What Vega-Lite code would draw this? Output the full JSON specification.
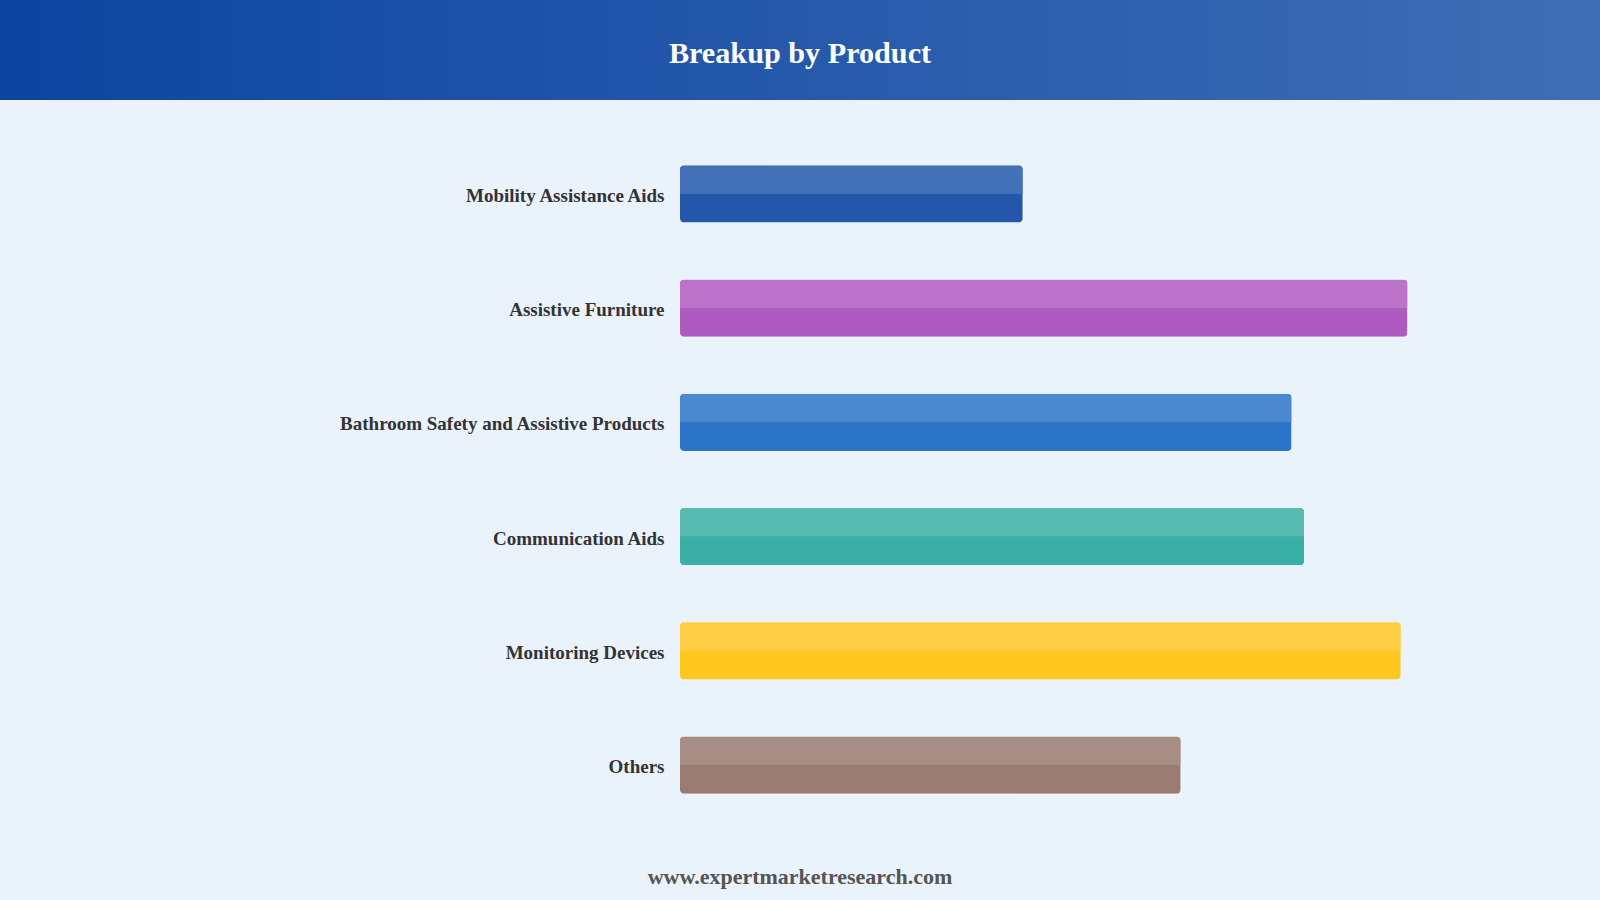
{
  "$schema": "https://vega.github.io/schema/vega-lite/v6.json",
  "description": "Breakup by Product",
  "background": "#EAF2FC",
  "padding": 0,
  "spacing": 0,
  "config": {"view": {"stroke": null}, "font": "Liberation Serif"},
  "vconcat": [
    {
      "width": 1600,
      "height": 100,
      "view": {
        "fill": {
          "gradient": "linear",
          "x1": 0, "y1": 0, "x2": 1, "y2": 0,
          "stops": [
            {"offset": 0, "color": "#0C45A0"},
            {"offset": 1, "color": "#3F6DB5"}
          ]
        }
      },
      "data": {"values": [{"heading": "Breakup by Product"}]},
      "mark": {
        "type": "text",
        "font": "Liberation Serif",
        "fontWeight": "bold",
        "fontSize": 30.2,
        "color": "white",
        "baseline": "middle",
        "dy": 4
      },
      "encoding": {"text": {"field": "heading"}}
    },
    {
      "width": 1600,
      "height": 759,
      "data": {
        "values": [
          {"product": "Mobility Assistance Aids", "share": 40.8},
          {"product": "Assistive Furniture", "share": 86.6},
          {"product": "Bathroom Safety and Assistive Products", "share": 72.8},
          {"product": "Communication Aids", "share": 74.3},
          {"product": "Monitoring Devices", "share": 85.8},
          {"product": "Others", "share": 59.6}
        ]
      },
      "encoding": {
        "y": {
          "field": "product",
          "type": "nominal",
          "sort": null,
          "scale": {"paddingInner": 0.5, "paddingOuter": 0.572},
          "axis": {
            "title": null,
            "domain": false,
            "ticks": false,
            "grid": false,
            "labelFont": "Liberation Serif",
            "labelFontWeight": "bold",
            "labelFontSize": 19,
            "labelColor": "#333333",
            "labelPadding": 0,
            "labelLimit": 0,
            "labelOffset": 2,
            "offset": -664
          }
        },
        "x": {
          "field": "share",
          "type": "quantitative",
          "scale": {"domain": [0, 100], "range": [680, 1520]},
          "axis": null
        }
      },
      "layer": [
        {
          "mark": {"type": "bar", "cornerRadius": 4},
          "encoding": {
            "color": {
              "field": "product",
              "type": "nominal",
              "scale": {
                "domain": ["Mobility Assistance Aids", "Assistive Furniture", "Bathroom Safety and Assistive Products", "Communication Aids", "Monitoring Devices", "Others"],
                "range": ["#2457AB", "#AF5AC1", "#2B74C7", "#3AAFA5", "#FDC720", "#9A7B71"]
              },
              "legend": null
            }
          }
        },
        {
          "mark": {
            "type": "bar",
            "height": 28.5,
            "yOffset": -14.25,
            "cornerRadiusTopLeft": 4,
            "cornerRadiusTopRight": 4
          },
          "encoding": {
            "color": {
              "field": "product",
              "type": "nominal",
              "scale": {
                "domain": ["Mobility Assistance Aids", "Assistive Furniture", "Bathroom Safety and Assistive Products", "Communication Aids", "Monitoring Devices", "Others"],
                "range": ["#4472B8", "#BD72CA", "#4A88CF", "#58BBB0", "#FECE45", "#A68E85"]
              },
              "legend": null
            }
          }
        }
      ],
      "resolve": {"scale": {"color": "independent"}}
    },
    {
      "width": 1600,
      "height": 41,
      "data": {"values": [{"site": "www.expertmarketresearch.com"}]},
      "mark": {
        "type": "text",
        "font": "Liberation Serif",
        "fontWeight": "bold",
        "fontSize": 22,
        "color": "#555555",
        "baseline": "middle",
        "dy": -3
      },
      "encoding": {"text": {"field": "site"}}
    }
  ]
}
